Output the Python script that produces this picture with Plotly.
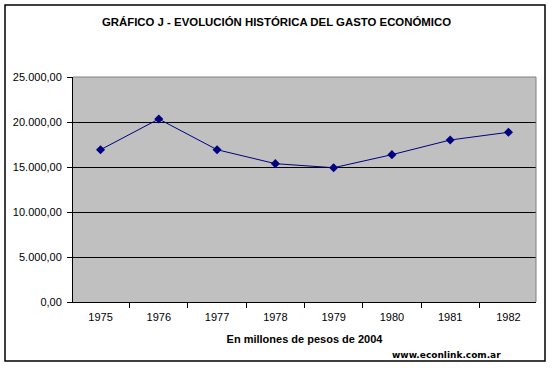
import plotly.graph_objects as go

years = ["1975", "1976", "1977", "1978", "1979", "1980", "1981", "1982"]
gasto = [16920, 20330, 16920, 15370, 14920, 16370, 18000, 18860]

W, H = 553, 368
L, R, T, B = 73, 17, 77, 66
pw, ph = W - L - R, H - T - B

def px_x(x):
    return (x - L) / pw

def px_y(y):
    return (H - B - y) / ph

fig = go.Figure()
fig.add_trace(go.Scatter(
    x=years, y=gasto, mode="lines+markers",
    line=dict(color="#000080", width=1),
    marker=dict(symbol="diamond", size=7, color="#000080"),
    showlegend=False, cliponaxis=False,
))

fig.update_layout(
    width=W, height=H,
    margin=dict(l=L, r=R, t=T, b=B),
    paper_bgcolor="white", plot_bgcolor="#C0C0C0",
    separators=",.",
    font=dict(family="Liberation Sans, Arial, sans-serif", size=11, color="black"),
    title=dict(text="<b>GRÁFICO J - EVOLUCIÓN HISTÓRICA DEL GASTO ECONÓMICO</b>",
               x=0.5, xref="container", xanchor="center", y=1 - 22 / H, yanchor="middle",
               font=dict(size=11.4, color="black", family="Liberation Sans, Arial, sans-serif")),
    xaxis=dict(
        type="category", tickson="boundaries", ticks="outside", ticklen=5,
        tickcolor="black", showline=True, linecolor="black", linewidth=1,
        showgrid=False, tickfont=dict(size=11), ticklabelstandoff=5,
        title=dict(text="<b>En millones de pesos de 2004</b>", standoff=13,
                   font=dict(size=11)),
    ),
    yaxis=dict(
        range=[0, 25000], dtick=5000, tickformat=",.2f",
        ticks="outside", ticklen=5, tickcolor="black",
        showline=True, linecolor="black", linewidth=1,
        showgrid=True, gridcolor="black", gridwidth=1, zeroline=False,
        tickfont=dict(size=11), ticklabelstandoff=3,
    ),
    shapes=[
        dict(type="line", xref="paper", yref="paper", x0=0, x1=1, y0=1, y1=1,
             line=dict(color="#808080", width=1)),
        dict(type="line", xref="paper", yref="paper", x0=1, x1=1, y0=0, y1=1,
             line=dict(color="#808080", width=1)),
        dict(type="rect", xref="paper", yref="paper",
             x0=px_x(5), x1=px_x(545), y0=px_y(361), y1=px_y(5),
             line=dict(color="black", width=1.5), fillcolor="rgba(0,0,0,0)"),
    ],
    annotations=[
        dict(text="<b>www.econlink.com.ar</b>", xref="paper", yref="paper",
             x=px_x(503), y=px_y(355), xanchor="right", yanchor="middle",
             showarrow=False,
             font=dict(family="DejaVu Sans, Verdana, sans-serif", size=9, color="black")),
    ],
)

fig.write_html("out.html", config={"displayModeBar": False},
               post_script="document.body.style.margin='0';")
